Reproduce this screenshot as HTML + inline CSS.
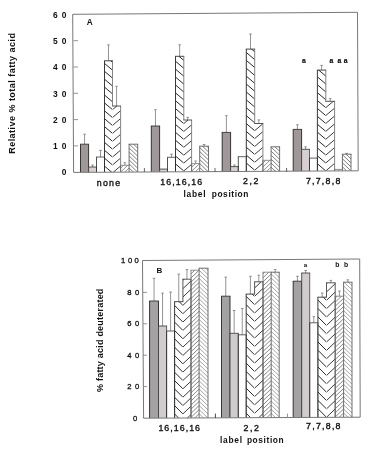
<!DOCTYPE html>
<html><head><meta charset="utf-8"><style>
html,body{margin:0;padding:0;background:#fff;}
svg{display:block;filter:blur(0.3px);font-family:"Liberation Sans", sans-serif;}
</style></head><body>
<svg width="390" height="462" viewBox="0 0 390 462">
<defs><clipPath id="c1"><rect x="104.50" y="60.80" width="8.00" height="111.30"/></clipPath><clipPath id="c2"><rect x="112.50" y="106.00" width="8.10" height="66.06"/></clipPath><clipPath id="c3"><rect x="120.60" y="165.30" width="8.50" height="6.71"/></clipPath><clipPath id="c4"><rect x="129.10" y="144.20" width="8.60" height="27.76"/></clipPath><clipPath id="c5"><rect x="175.50" y="56.30" width="8.30" height="115.40"/></clipPath><clipPath id="c6"><rect x="183.80" y="120.00" width="7.80" height="51.66"/></clipPath><clipPath id="c7"><rect x="191.60" y="163.60" width="8.10" height="8.01"/></clipPath><clipPath id="c8"><rect x="199.70" y="146.20" width="8.80" height="25.37"/></clipPath><clipPath id="c9"><rect x="246.30" y="49.10" width="8.40" height="122.21"/></clipPath><clipPath id="c10"><rect x="254.70" y="123.50" width="8.20" height="47.76"/></clipPath><clipPath id="c11"><rect x="262.90" y="160.30" width="8.20" height="10.91"/></clipPath><clipPath id="c12"><rect x="271.10" y="146.80" width="8.50" height="24.37"/></clipPath><clipPath id="c13"><rect x="317.40" y="70.10" width="8.40" height="100.81"/></clipPath><clipPath id="c14"><rect x="325.80" y="101.30" width="8.80" height="69.56"/></clipPath><clipPath id="c15"><rect x="334.60" y="169.40" width="7.80" height="1.41"/></clipPath><clipPath id="c16"><rect x="342.40" y="154.20" width="8.60" height="16.56"/></clipPath><clipPath id="c17"><rect x="174.60" y="301.70" width="8.30" height="116.24"/></clipPath><clipPath id="c18"><rect x="182.90" y="279.20" width="8.10" height="138.70"/></clipPath><clipPath id="c19"><rect x="191.00" y="270.20" width="8.10" height="147.66"/></clipPath><clipPath id="c20"><rect x="199.10" y="268.20" width="8.90" height="149.62"/></clipPath><clipPath id="c21"><rect x="246.20" y="294.10" width="8.40" height="123.51"/></clipPath><clipPath id="c22"><rect x="254.60" y="281.80" width="8.40" height="135.77"/></clipPath><clipPath id="c23"><rect x="263.00" y="272.20" width="8.20" height="145.33"/></clipPath><clipPath id="c24"><rect x="271.20" y="272.20" width="8.00" height="145.29"/></clipPath><clipPath id="c25"><rect x="317.90" y="297.20" width="8.60" height="120.08"/></clipPath><clipPath id="c26"><rect x="326.50" y="282.80" width="8.70" height="134.44"/></clipPath><clipPath id="c27"><rect x="335.20" y="296.20" width="8.40" height="121.00"/></clipPath><clipPath id="c28"><rect x="343.60" y="282.20" width="8.40" height="134.96"/></clipPath></defs>
<rect width="390" height="462" fill="#fff"/>
<path d="M84.55 144.20V134.20M83.25 134.20H85.85" stroke="#7a7a7a" stroke-width="0.8" fill="none"/>
<rect x="80.50" y="144.20" width="8.10" height="28.04" fill="#a09898"/><path d="M80.50 172.24V144.20" stroke="#222" stroke-width="0.90"/><path d="M88.60 172.24V144.20" stroke="#222" stroke-width="0.90"/><path d="M80.05 144.20H89.05" stroke="#333" stroke-width="0.90"/>
<path d="M92.55 167.00V165.00M91.25 165.00H93.85" stroke="#7a7a7a" stroke-width="0.8" fill="none"/>
<rect x="88.60" y="167.00" width="7.90" height="5.19" fill="#d8d0d0"/><path d="M88.60 172.19V167.00" stroke="#444" stroke-width="0.90"/><path d="M96.50 172.19V167.00" stroke="#555" stroke-width="0.90"/><path d="M88.15 167.00H96.95" stroke="#444" stroke-width="0.90"/>
<path d="M100.50 157.00V150.40M99.20 150.40H101.80" stroke="#7a7a7a" stroke-width="0.8" fill="none"/>
<path d="M96.50 172.15V157.00" stroke="#333" stroke-width="0.85"/><path d="M104.50 172.15V157.00" stroke="#777" stroke-width="0.85"/><path d="M96.05 157.00H104.95" stroke="#444" stroke-width="0.85"/>
<path d="M108.50 60.80V44.90M107.20 44.90H109.80" stroke="#7a7a7a" stroke-width="0.8" fill="none"/>
<path clip-path="url(#c1)" d="M104.50 181.90L112.50 188.70M104.50 174.00L112.50 180.80M104.50 166.10L112.50 172.90M104.50 158.20L112.50 165.00M104.50 150.30L112.50 157.10M104.50 142.40L112.50 149.20M104.50 134.50L112.50 141.30M104.50 126.60L112.50 133.40M104.50 118.70L112.50 125.50M104.50 110.80L112.50 117.60M104.50 102.90L112.50 109.70M104.50 95.00L112.50 101.80M104.50 87.10L112.50 93.90M104.50 79.20L112.50 86.00M104.50 71.30L112.50 78.10M104.50 63.40L112.50 70.20M104.50 55.50L112.50 62.30M104.50 47.60L112.50 54.40" stroke="#2a2a2a" stroke-width="1.00" fill="none"/><path d="M104.50 172.10V60.80" stroke="#222" stroke-width="0.90"/><path d="M104.05 60.80H112.95" stroke="#333" stroke-width="0.90"/>
<path d="M112.50 60.80V106.00" stroke="#666" stroke-width="0.8"/>
<path d="M116.55 106.00V86.30M115.25 86.30H117.85" stroke="#7a7a7a" stroke-width="0.8" fill="none"/>
<path clip-path="url(#c2)" d="M112.50 188.66L120.60 181.77M112.50 180.76L120.60 173.87M112.50 172.86L120.60 165.97M112.50 164.96L120.60 158.07M112.50 157.06L120.60 150.17M112.50 149.16L120.60 142.27M112.50 141.26L120.60 134.37M112.50 133.36L120.60 126.47M112.50 125.46L120.60 118.57M112.50 117.56L120.60 110.67M112.50 109.66L120.60 102.77M112.50 101.76L120.60 94.87" stroke="#333" stroke-width="0.95" fill="none"/><path d="M120.60 172.06V106.00" stroke="#777" stroke-width="0.90"/><path d="M112.05 106.00H121.05" stroke="#444" stroke-width="0.90"/>
<path d="M124.85 165.30V162.70M123.55 162.70H126.15" stroke="#7a7a7a" stroke-width="0.8" fill="none"/>
<path clip-path="url(#c3)" d="M120.60 184.09L129.10 176.01M120.60 180.09L129.10 172.01M120.60 176.09L129.10 168.01M120.60 172.09L129.10 164.01M120.60 168.09L129.10 160.01M120.60 164.09L129.10 156.01" stroke="#707070" stroke-width="0.75" fill="none"/><path d="M120.60 172.01V165.30" stroke="#666" stroke-width="0.80"/><path d="M120.15 165.30H129.55" stroke="#777" stroke-width="0.80"/>
<path clip-path="url(#c4)" d="M129.10 175.96L137.70 184.13M129.10 171.96L137.70 180.13M129.10 167.96L137.70 176.13M129.10 163.96L137.70 172.13M129.10 159.96L137.70 168.13M129.10 155.96L137.70 164.13M129.10 151.96L137.70 160.13M129.10 147.96L137.70 156.13M129.10 143.96L137.70 152.13M129.10 139.96L137.70 148.13M129.10 135.96L137.70 144.13" stroke="#555" stroke-width="0.75" fill="none"/><path d="M129.10 171.96V144.20" stroke="#555" stroke-width="0.85"/><path d="M137.70 171.96V144.20" stroke="#555" stroke-width="0.85"/><path d="M128.65 144.20H138.15" stroke="#555" stroke-width="0.85"/>
<path d="M155.45 126.00V109.70M154.15 109.70H156.75" stroke="#7a7a7a" stroke-width="0.8" fill="none"/>
<rect x="151.30" y="126.00" width="8.30" height="45.84" fill="#a09898"/><path d="M151.30 171.84V126.00" stroke="#222" stroke-width="0.90"/><path d="M159.60 171.84V126.00" stroke="#222" stroke-width="0.90"/><path d="M150.85 126.00H160.05" stroke="#333" stroke-width="0.90"/>
<rect x="159.60" y="169.10" width="7.90" height="2.69" fill="#d8d0d0"/><path d="M159.60 171.79V169.10" stroke="#444" stroke-width="0.90"/><path d="M167.50 171.79V169.10" stroke="#555" stroke-width="0.90"/><path d="M159.15 169.10H167.95" stroke="#444" stroke-width="0.90"/>
<path d="M171.50 157.30V154.20M170.20 154.20H172.80" stroke="#7a7a7a" stroke-width="0.8" fill="none"/>
<path d="M167.50 171.75V157.30" stroke="#333" stroke-width="0.85"/><path d="M175.50 171.75V157.30" stroke="#777" stroke-width="0.85"/><path d="M167.05 157.30H175.95" stroke="#444" stroke-width="0.85"/>
<path d="M179.65 56.30V44.80M178.35 44.80H180.95" stroke="#7a7a7a" stroke-width="0.8" fill="none"/>
<path clip-path="url(#c5)" d="M175.50 179.75L183.80 186.80M175.50 171.85L183.80 178.90M175.50 163.95L183.80 171.00M175.50 156.05L183.80 163.10M175.50 148.15L183.80 155.20M175.50 140.25L183.80 147.30M175.50 132.35L183.80 139.40M175.50 124.45L183.80 131.50M175.50 116.55L183.80 123.60M175.50 108.65L183.80 115.70M175.50 100.75L183.80 107.80M175.50 92.85L183.80 99.90M175.50 84.95L183.80 92.00M175.50 77.05L183.80 84.10M175.50 69.15L183.80 76.20M175.50 61.25L183.80 68.30M175.50 53.35L183.80 60.40M175.50 45.45L183.80 52.50" stroke="#2a2a2a" stroke-width="1.00" fill="none"/><path d="M175.50 171.70V56.30" stroke="#222" stroke-width="0.90"/><path d="M175.05 56.30H184.25" stroke="#333" stroke-width="0.90"/>
<path d="M183.80 56.30V120.00" stroke="#666" stroke-width="0.8"/>
<path d="M187.70 120.00V117.40M186.40 117.40H189.00" stroke="#7a7a7a" stroke-width="0.8" fill="none"/>
<path clip-path="url(#c6)" d="M183.80 186.76L191.60 180.13M183.80 178.86L191.60 172.23M183.80 170.96L191.60 164.33M183.80 163.06L191.60 156.43M183.80 155.16L191.60 148.53M183.80 147.26L191.60 140.63M183.80 139.36L191.60 132.73M183.80 131.46L191.60 124.83M183.80 123.56L191.60 116.93M183.80 115.66L191.60 109.03" stroke="#333" stroke-width="0.95" fill="none"/><path d="M191.60 171.66V120.00" stroke="#777" stroke-width="0.90"/><path d="M183.35 120.00H192.05" stroke="#444" stroke-width="0.90"/>
<path d="M195.65 163.60V161.00M194.35 161.00H196.95" stroke="#7a7a7a" stroke-width="0.8" fill="none"/>
<path clip-path="url(#c7)" d="M191.60 183.31L199.70 175.61M191.60 179.31L199.70 171.61M191.60 175.31L199.70 167.61M191.60 171.31L199.70 163.61M191.60 167.31L199.70 159.61M191.60 163.31L199.70 155.61" stroke="#707070" stroke-width="0.75" fill="none"/><path d="M191.60 171.61V163.60" stroke="#666" stroke-width="0.80"/><path d="M191.15 163.60H200.15" stroke="#777" stroke-width="0.80"/>
<path d="M204.10 146.20V144.50M202.80 144.50H205.40" stroke="#7a7a7a" stroke-width="0.8" fill="none"/>
<path clip-path="url(#c8)" d="M199.70 175.57L208.50 183.93M199.70 171.57L208.50 179.93M199.70 167.57L208.50 175.93M199.70 163.57L208.50 171.93M199.70 159.57L208.50 167.93M199.70 155.57L208.50 163.93M199.70 151.57L208.50 159.93M199.70 147.57L208.50 155.93M199.70 143.57L208.50 151.93M199.70 139.57L208.50 147.93M199.70 135.57L208.50 143.93" stroke="#555" stroke-width="0.75" fill="none"/><path d="M199.70 171.57V146.20" stroke="#555" stroke-width="0.85"/><path d="M208.50 171.57V146.20" stroke="#555" stroke-width="0.85"/><path d="M199.25 146.20H208.95" stroke="#555" stroke-width="0.85"/>
<path d="M226.40 132.40V115.70M225.10 115.70H227.70" stroke="#7a7a7a" stroke-width="0.8" fill="none"/>
<rect x="222.20" y="132.40" width="8.40" height="39.04" fill="#a09898"/><path d="M222.20 171.44V132.40" stroke="#222" stroke-width="0.90"/><path d="M230.60 171.44V132.40" stroke="#222" stroke-width="0.90"/><path d="M221.75 132.40H231.05" stroke="#333" stroke-width="0.90"/>
<path d="M234.45 166.60V165.00M233.15 165.00H235.75" stroke="#7a7a7a" stroke-width="0.8" fill="none"/>
<rect x="230.60" y="166.60" width="7.70" height="4.80" fill="#d8d0d0"/><path d="M230.60 171.40V166.60" stroke="#444" stroke-width="0.90"/><path d="M238.30 171.40V166.60" stroke="#555" stroke-width="0.90"/><path d="M230.15 166.60H238.75" stroke="#444" stroke-width="0.90"/>
<path d="M238.30 171.35V156.70" stroke="#333" stroke-width="0.85"/><path d="M246.30 171.35V156.70" stroke="#777" stroke-width="0.85"/><path d="M237.85 156.70H246.75" stroke="#444" stroke-width="0.85"/>
<path d="M250.50 49.10V34.00M249.20 34.00H251.80" stroke="#7a7a7a" stroke-width="0.8" fill="none"/>
<path clip-path="url(#c9)" d="M246.30 186.77L254.70 193.91M246.30 178.87L254.70 186.01M246.30 170.97L254.70 178.11M246.30 163.07L254.70 170.21M246.30 155.17L254.70 162.31M246.30 147.27L254.70 154.41M246.30 139.37L254.70 146.51M246.30 131.47L254.70 138.61M246.30 123.57L254.70 130.71M246.30 115.67L254.70 122.81M246.30 107.77L254.70 114.91M246.30 99.87L254.70 107.01M246.30 91.97L254.70 99.11M246.30 84.07L254.70 91.21M246.30 76.17L254.70 83.31M246.30 68.27L254.70 75.41M246.30 60.37L254.70 67.51M246.30 52.47L254.70 59.61M246.30 44.57L254.70 51.71M246.30 36.67L254.70 43.81" stroke="#2a2a2a" stroke-width="1.00" fill="none"/><path d="M246.30 171.31V49.10" stroke="#222" stroke-width="0.90"/><path d="M245.85 49.10H255.15" stroke="#333" stroke-width="0.90"/>
<path d="M254.70 49.10V123.50" stroke="#666" stroke-width="0.8"/>
<path d="M258.80 123.50V119.90M257.50 119.90H260.10" stroke="#7a7a7a" stroke-width="0.8" fill="none"/>
<path clip-path="url(#c10)" d="M254.70 193.86L262.90 186.89M254.70 185.96L262.90 178.99M254.70 178.06L262.90 171.09M254.70 170.16L262.90 163.19M254.70 162.26L262.90 155.29M254.70 154.36L262.90 147.39M254.70 146.46L262.90 139.49M254.70 138.56L262.90 131.59M254.70 130.66L262.90 123.69M254.70 122.76L262.90 115.79" stroke="#333" stroke-width="0.95" fill="none"/><path d="M262.90 171.26V123.50" stroke="#777" stroke-width="0.90"/><path d="M254.25 123.50H263.35" stroke="#444" stroke-width="0.90"/>
<path clip-path="url(#c11)" d="M262.90 183.00L271.10 175.21M262.90 179.00L271.10 171.21M262.90 175.00L271.10 167.21M262.90 171.00L271.10 163.21M262.90 167.00L271.10 159.21M262.90 163.00L271.10 155.21M262.90 159.00L271.10 151.21" stroke="#707070" stroke-width="0.75" fill="none"/><path d="M262.90 171.21V160.30" stroke="#666" stroke-width="0.80"/><path d="M262.45 160.30H271.55" stroke="#777" stroke-width="0.80"/>
<path clip-path="url(#c12)" d="M271.10 175.17L279.60 183.24M271.10 171.17L279.60 179.24M271.10 167.17L279.60 175.24M271.10 163.17L279.60 171.24M271.10 159.17L279.60 167.24M271.10 155.17L279.60 163.24M271.10 151.17L279.60 159.24M271.10 147.17L279.60 155.24M271.10 143.17L279.60 151.24M271.10 139.17L279.60 147.24M271.10 135.17L279.60 143.24" stroke="#555" stroke-width="0.75" fill="none"/><path d="M271.10 171.17V146.80" stroke="#555" stroke-width="0.85"/><path d="M279.60 171.17V146.80" stroke="#555" stroke-width="0.85"/><path d="M270.65 146.80H280.05" stroke="#555" stroke-width="0.85"/>
<path d="M297.40 129.40V124.80M296.10 124.80H298.70" stroke="#7a7a7a" stroke-width="0.8" fill="none"/>
<rect x="293.20" y="129.40" width="8.40" height="41.64" fill="#a09898"/><path d="M293.20 171.04V129.40" stroke="#222" stroke-width="0.90"/><path d="M301.60 171.04V129.40" stroke="#222" stroke-width="0.90"/><path d="M292.75 129.40H302.05" stroke="#333" stroke-width="0.90"/>
<path d="M305.55 149.30V146.80M304.25 146.80H306.85" stroke="#7a7a7a" stroke-width="0.8" fill="none"/>
<rect x="301.60" y="149.30" width="7.90" height="21.70" fill="#d8d0d0"/><path d="M301.60 171.00V149.30" stroke="#444" stroke-width="0.90"/><path d="M309.50 171.00V149.30" stroke="#555" stroke-width="0.90"/><path d="M301.15 149.30H309.95" stroke="#444" stroke-width="0.90"/>
<path d="M309.50 170.95V158.10" stroke="#333" stroke-width="0.85"/><path d="M317.40 170.95V158.10" stroke="#777" stroke-width="0.85"/><path d="M309.05 158.10H317.85" stroke="#444" stroke-width="0.85"/>
<path d="M321.60 70.10V65.40M320.30 65.40H322.90" stroke="#7a7a7a" stroke-width="0.8" fill="none"/>
<path clip-path="url(#c13)" d="M317.40 179.57L325.80 186.71M317.40 171.67L325.80 178.81M317.40 163.77L325.80 170.91M317.40 155.87L325.80 163.01M317.40 147.97L325.80 155.11M317.40 140.07L325.80 147.21M317.40 132.17L325.80 139.31M317.40 124.27L325.80 131.41M317.40 116.37L325.80 123.51M317.40 108.47L325.80 115.61M317.40 100.57L325.80 107.71M317.40 92.67L325.80 99.81M317.40 84.77L325.80 91.91M317.40 76.87L325.80 84.01M317.40 68.97L325.80 76.11M317.40 61.07L325.80 68.21" stroke="#2a2a2a" stroke-width="1.00" fill="none"/><path d="M317.40 170.91V70.10" stroke="#222" stroke-width="0.90"/><path d="M316.95 70.10H326.25" stroke="#333" stroke-width="0.90"/>
<path d="M325.80 70.10V101.30" stroke="#666" stroke-width="0.8"/>
<path d="M330.20 101.30V98.60M328.90 98.60H331.50" stroke="#7a7a7a" stroke-width="0.8" fill="none"/>
<path clip-path="url(#c14)" d="M325.80 186.66L334.60 179.18M325.80 178.76L334.60 171.28M325.80 170.86L334.60 163.38M325.80 162.96L334.60 155.48M325.80 155.06L334.60 147.58M325.80 147.16L334.60 139.68M325.80 139.26L334.60 131.78M325.80 131.36L334.60 123.88M325.80 123.46L334.60 115.98M325.80 115.56L334.60 108.08M325.80 107.66L334.60 100.18M325.80 99.76L334.60 92.28" stroke="#333" stroke-width="0.95" fill="none"/><path d="M334.60 170.86V101.30" stroke="#777" stroke-width="0.90"/><path d="M325.35 101.30H335.05" stroke="#444" stroke-width="0.90"/>
<path clip-path="url(#c15)" d="M334.60 182.22L342.40 174.81M334.60 178.22L342.40 170.81M334.60 174.22L342.40 166.81M334.60 170.22L342.40 162.81M334.60 166.22L342.40 158.81" stroke="#707070" stroke-width="0.75" fill="none"/><path d="M334.60 170.81V169.40" stroke="#666" stroke-width="0.80"/><path d="M334.15 169.40H342.85" stroke="#777" stroke-width="0.80"/>
<path d="M346.70 154.20V153.30M345.40 153.30H348.00" stroke="#7a7a7a" stroke-width="0.8" fill="none"/>
<path clip-path="url(#c16)" d="M342.40 174.76L351.00 182.93M342.40 170.76L351.00 178.93M342.40 166.76L351.00 174.93M342.40 162.76L351.00 170.93M342.40 158.76L351.00 166.93M342.40 154.76L351.00 162.93M342.40 150.76L351.00 158.93M342.40 146.76L351.00 154.93M342.40 142.76L351.00 150.93" stroke="#555" stroke-width="0.75" fill="none"/><path d="M342.40 170.76V154.20" stroke="#555" stroke-width="0.85"/><path d="M351.00 170.76V154.20" stroke="#555" stroke-width="0.85"/><path d="M341.95 154.20H351.45" stroke="#555" stroke-width="0.85"/>
<path d="M154.05 301.00V278.30M152.75 278.30H155.35" stroke="#7a7a7a" stroke-width="0.8" fill="none"/>
<rect x="149.60" y="301.00" width="8.90" height="117.05" fill="#a4a2a2"/><path d="M149.60 418.05V301.00" stroke="#222" stroke-width="0.90"/><path d="M158.50 418.05V301.00" stroke="#222" stroke-width="0.90"/><path d="M149.15 301.00H158.95" stroke="#333" stroke-width="0.90"/>
<path d="M162.55 326.00V293.10M161.25 293.10H163.85" stroke="#7a7a7a" stroke-width="0.8" fill="none"/>
<rect x="158.50" y="326.00" width="8.10" height="92.01" fill="#d0cccc"/><path d="M158.50 418.01V326.00" stroke="#444" stroke-width="0.90"/><path d="M166.60 418.01V326.00" stroke="#555" stroke-width="0.90"/><path d="M158.05 326.00H167.05" stroke="#444" stroke-width="0.90"/>
<path d="M170.60 331.00V292.00M169.30 292.00H171.90" stroke="#7a7a7a" stroke-width="0.8" fill="none"/>
<path d="M166.60 417.98V331.00" stroke="#333" stroke-width="0.85"/><path d="M174.60 417.98V331.00" stroke="#777" stroke-width="0.85"/><path d="M166.15 331.00H175.05" stroke="#444" stroke-width="0.85"/>
<path d="M178.75 301.70V274.10M177.45 274.10H180.05" stroke="#7a7a7a" stroke-width="0.8" fill="none"/>
<path clip-path="url(#c17)" d="M174.60 430.69L182.90 438.99M174.60 422.34L182.90 430.64M174.60 413.99L182.90 422.29M174.60 405.64L182.90 413.94M174.60 397.29L182.90 405.59M174.60 388.94L182.90 397.24M174.60 380.59L182.90 388.89M174.60 372.24L182.90 380.54M174.60 363.89L182.90 372.19M174.60 355.54L182.90 363.84M174.60 347.19L182.90 355.49M174.60 338.84L182.90 347.14M174.60 330.49L182.90 338.79M174.60 322.14L182.90 330.44M174.60 313.79L182.90 322.09M174.60 305.44L182.90 313.74M174.60 297.09L182.90 305.39M174.60 288.74L182.90 297.04" stroke="#2a2a2a" stroke-width="1.00" fill="none"/><path d="M174.60 417.94V301.70" stroke="#222" stroke-width="0.90"/><path d="M174.15 301.70H183.35" stroke="#333" stroke-width="0.90"/>
<path d="M186.95 279.20V269.60M185.65 269.60H188.25" stroke="#7a7a7a" stroke-width="0.8" fill="none"/>
<path clip-path="url(#c18)" d="M182.90 438.95L191.00 431.25M182.90 430.60L191.00 422.90M182.90 422.25L191.00 414.55M182.90 413.90L191.00 406.20M182.90 405.55L191.00 397.85M182.90 397.20L191.00 389.50M182.90 388.85L191.00 381.15M182.90 380.50L191.00 372.80M182.90 372.15L191.00 364.45M182.90 363.80L191.00 356.10M182.90 355.45L191.00 347.75M182.90 347.10L191.00 339.40M182.90 338.75L191.00 331.05M182.90 330.40L191.00 322.70M182.90 322.05L191.00 314.35M182.90 313.70L191.00 306.00M182.90 305.35L191.00 297.65M182.90 297.00L191.00 289.30M182.90 288.65L191.00 280.95M182.90 280.30L191.00 272.60M182.90 271.95L191.00 264.25" stroke="#333" stroke-width="0.95" fill="none"/><path d="M191.00 417.90V279.20" stroke="#444" stroke-width="0.90"/><path d="M182.45 279.20H191.45" stroke="#444" stroke-width="0.90"/>
<path d="M182.90 279.20V301.70" stroke="#444" stroke-width="0.9"/>
<path clip-path="url(#c19)" d="M191.00 429.66L199.10 421.96M191.00 425.56L199.10 417.86M191.00 421.46L199.10 413.76M191.00 417.36L199.10 409.66M191.00 413.26L199.10 405.56M191.00 409.16L199.10 401.46M191.00 405.06L199.10 397.36M191.00 400.96L199.10 393.26M191.00 396.86L199.10 389.16M191.00 392.76L199.10 385.06M191.00 388.66L199.10 380.96M191.00 384.56L199.10 376.86M191.00 380.46L199.10 372.76M191.00 376.36L199.10 368.66M191.00 372.26L199.10 364.56M191.00 368.16L199.10 360.46M191.00 364.06L199.10 356.36M191.00 359.96L199.10 352.26M191.00 355.86L199.10 348.16M191.00 351.76L199.10 344.06M191.00 347.66L199.10 339.96M191.00 343.56L199.10 335.86M191.00 339.46L199.10 331.76M191.00 335.36L199.10 327.66M191.00 331.26L199.10 323.56M191.00 327.16L199.10 319.46M191.00 323.06L199.10 315.36M191.00 318.96L199.10 311.26M191.00 314.86L199.10 307.16M191.00 310.76L199.10 303.06M191.00 306.66L199.10 298.96M191.00 302.56L199.10 294.86M191.00 298.46L199.10 290.76M191.00 294.36L199.10 286.66M191.00 290.26L199.10 282.56M191.00 286.16L199.10 278.46M191.00 282.06L199.10 274.36M191.00 277.96L199.10 270.26M191.00 273.86L199.10 266.16M191.00 269.76L199.10 262.06" stroke="#606060" stroke-width="0.75" fill="none"/><path d="M191.00 417.86V270.20" stroke="#666" stroke-width="0.80"/><path d="M190.55 270.20H199.55" stroke="#777" stroke-width="0.80"/>
<path clip-path="url(#c20)" d="M199.10 421.92L208.00 430.38M199.10 417.82L208.00 426.28M199.10 413.72L208.00 422.18M199.10 409.62L208.00 418.08M199.10 405.52L208.00 413.98M199.10 401.42L208.00 409.88M199.10 397.32L208.00 405.78M199.10 393.22L208.00 401.68M199.10 389.12L208.00 397.58M199.10 385.02L208.00 393.48M199.10 380.92L208.00 389.38M199.10 376.82L208.00 385.28M199.10 372.72L208.00 381.18M199.10 368.62L208.00 377.08M199.10 364.52L208.00 372.98M199.10 360.42L208.00 368.88M199.10 356.32L208.00 364.78M199.10 352.22L208.00 360.68M199.10 348.12L208.00 356.58M199.10 344.02L208.00 352.48M199.10 339.92L208.00 348.38M199.10 335.82L208.00 344.28M199.10 331.72L208.00 340.18M199.10 327.62L208.00 336.08M199.10 323.52L208.00 331.98M199.10 319.42L208.00 327.88M199.10 315.32L208.00 323.78M199.10 311.22L208.00 319.68M199.10 307.12L208.00 315.58M199.10 303.02L208.00 311.48M199.10 298.92L208.00 307.38M199.10 294.82L208.00 303.28M199.10 290.72L208.00 299.18M199.10 286.62L208.00 295.08M199.10 282.52L208.00 290.98M199.10 278.42L208.00 286.88M199.10 274.32L208.00 282.78M199.10 270.22L208.00 278.68M199.10 266.12L208.00 274.58M199.10 262.02L208.00 270.48M199.10 257.92L208.00 266.38" stroke="#8a8a8a" stroke-width="0.75" fill="none"/><path d="M199.10 417.82V268.20" stroke="#555" stroke-width="0.85"/><path d="M208.00 417.82V268.20" stroke="#555" stroke-width="0.85"/><path d="M198.65 268.20H208.45" stroke="#555" stroke-width="0.85"/>
<path d="M225.75 296.20V277.10M224.45 277.10H227.05" stroke="#7a7a7a" stroke-width="0.8" fill="none"/>
<rect x="221.50" y="296.20" width="8.50" height="121.52" fill="#a4a2a2"/><path d="M221.50 417.72V296.20" stroke="#222" stroke-width="0.90"/><path d="M230.00 417.72V296.20" stroke="#222" stroke-width="0.90"/><path d="M221.05 296.20H230.45" stroke="#333" stroke-width="0.90"/>
<path d="M234.15 333.30V310.50M232.85 310.50H235.45" stroke="#7a7a7a" stroke-width="0.8" fill="none"/>
<rect x="230.00" y="333.30" width="8.30" height="84.38" fill="#d0cccc"/><path d="M230.00 417.68V333.30" stroke="#444" stroke-width="0.90"/><path d="M238.30 417.68V333.30" stroke="#555" stroke-width="0.90"/><path d="M229.55 333.30H238.75" stroke="#444" stroke-width="0.90"/>
<path d="M242.25 334.80V308.50M240.95 308.50H243.55" stroke="#7a7a7a" stroke-width="0.8" fill="none"/>
<path d="M238.30 417.64V334.80" stroke="#333" stroke-width="0.85"/><path d="M246.20 417.64V334.80" stroke="#777" stroke-width="0.85"/><path d="M237.85 334.80H246.65" stroke="#444" stroke-width="0.85"/>
<path d="M250.40 294.10V276.30M249.10 276.30H251.70" stroke="#7a7a7a" stroke-width="0.8" fill="none"/>
<path clip-path="url(#c21)" d="M246.20 429.96L254.60 438.36M246.20 421.61L254.60 430.01M246.20 413.26L254.60 421.66M246.20 404.91L254.60 413.31M246.20 396.56L254.60 404.96M246.20 388.21L254.60 396.61M246.20 379.86L254.60 388.26M246.20 371.51L254.60 379.91M246.20 363.16L254.60 371.56M246.20 354.81L254.60 363.21M246.20 346.46L254.60 354.86M246.20 338.11L254.60 346.51M246.20 329.76L254.60 338.16M246.20 321.41L254.60 329.81M246.20 313.06L254.60 321.46M246.20 304.71L254.60 313.11M246.20 296.36L254.60 304.76M246.20 288.01L254.60 296.41M246.20 279.66L254.60 288.06" stroke="#2a2a2a" stroke-width="1.00" fill="none"/><path d="M246.20 417.61V294.10" stroke="#222" stroke-width="0.90"/><path d="M245.75 294.10H255.05" stroke="#333" stroke-width="0.90"/>
<path d="M258.80 281.80V275.20M257.50 275.20H260.10" stroke="#7a7a7a" stroke-width="0.8" fill="none"/>
<path clip-path="url(#c22)" d="M254.60 438.32L263.00 430.34M254.60 429.97L263.00 421.99M254.60 421.62L263.00 413.64M254.60 413.27L263.00 405.29M254.60 404.92L263.00 396.94M254.60 396.57L263.00 388.59M254.60 388.22L263.00 380.24M254.60 379.87L263.00 371.89M254.60 371.52L263.00 363.54M254.60 363.17L263.00 355.19M254.60 354.82L263.00 346.84M254.60 346.47L263.00 338.49M254.60 338.12L263.00 330.14M254.60 329.77L263.00 321.79M254.60 321.42L263.00 313.44M254.60 313.07L263.00 305.09M254.60 304.72L263.00 296.74M254.60 296.37L263.00 288.39M254.60 288.02L263.00 280.04M254.60 279.67L263.00 271.69" stroke="#333" stroke-width="0.95" fill="none"/><path d="M263.00 417.57V281.80" stroke="#444" stroke-width="0.90"/><path d="M254.15 281.80H263.45" stroke="#444" stroke-width="0.90"/>
<path d="M254.60 281.80V294.10" stroke="#444" stroke-width="0.9"/>
<path clip-path="url(#c23)" d="M263.00 429.42L271.20 421.63M263.00 425.32L271.20 417.53M263.00 421.22L271.20 413.43M263.00 417.12L271.20 409.33M263.00 413.02L271.20 405.23M263.00 408.92L271.20 401.13M263.00 404.82L271.20 397.03M263.00 400.72L271.20 392.93M263.00 396.62L271.20 388.83M263.00 392.52L271.20 384.73M263.00 388.42L271.20 380.63M263.00 384.32L271.20 376.53M263.00 380.22L271.20 372.43M263.00 376.12L271.20 368.33M263.00 372.02L271.20 364.23M263.00 367.92L271.20 360.13M263.00 363.82L271.20 356.03M263.00 359.72L271.20 351.93M263.00 355.62L271.20 347.83M263.00 351.52L271.20 343.73M263.00 347.42L271.20 339.63M263.00 343.32L271.20 335.53M263.00 339.22L271.20 331.43M263.00 335.12L271.20 327.33M263.00 331.02L271.20 323.23M263.00 326.92L271.20 319.13M263.00 322.82L271.20 315.03M263.00 318.72L271.20 310.93M263.00 314.62L271.20 306.83M263.00 310.52L271.20 302.73M263.00 306.42L271.20 298.63M263.00 302.32L271.20 294.53M263.00 298.22L271.20 290.43M263.00 294.12L271.20 286.33M263.00 290.02L271.20 282.23M263.00 285.92L271.20 278.13M263.00 281.82L271.20 274.03M263.00 277.72L271.20 269.93M263.00 273.62L271.20 265.83M263.00 269.52L271.20 261.73" stroke="#606060" stroke-width="0.75" fill="none"/><path d="M263.00 417.53V272.20" stroke="#666" stroke-width="0.80"/><path d="M262.55 272.20H271.65" stroke="#777" stroke-width="0.80"/>
<path d="M275.20 272.20V269.50M273.90 269.50H276.50" stroke="#7a7a7a" stroke-width="0.8" fill="none"/>
<path clip-path="url(#c24)" d="M271.20 421.59L279.20 429.19M271.20 417.49L279.20 425.09M271.20 413.39L279.20 420.99M271.20 409.29L279.20 416.89M271.20 405.19L279.20 412.79M271.20 401.09L279.20 408.69M271.20 396.99L279.20 404.59M271.20 392.89L279.20 400.49M271.20 388.79L279.20 396.39M271.20 384.69L279.20 392.29M271.20 380.59L279.20 388.19M271.20 376.49L279.20 384.09M271.20 372.39L279.20 379.99M271.20 368.29L279.20 375.89M271.20 364.19L279.20 371.79M271.20 360.09L279.20 367.69M271.20 355.99L279.20 363.59M271.20 351.89L279.20 359.49M271.20 347.79L279.20 355.39M271.20 343.69L279.20 351.29M271.20 339.59L279.20 347.19M271.20 335.49L279.20 343.09M271.20 331.39L279.20 338.99M271.20 327.29L279.20 334.89M271.20 323.19L279.20 330.79M271.20 319.09L279.20 326.69M271.20 314.99L279.20 322.59M271.20 310.89L279.20 318.49M271.20 306.79L279.20 314.39M271.20 302.69L279.20 310.29M271.20 298.59L279.20 306.19M271.20 294.49L279.20 302.09M271.20 290.39L279.20 297.99M271.20 286.29L279.20 293.89M271.20 282.19L279.20 289.79M271.20 278.09L279.20 285.69M271.20 273.99L279.20 281.59M271.20 269.89L279.20 277.49M271.20 265.79L279.20 273.39M271.20 261.69L279.20 269.29" stroke="#8a8a8a" stroke-width="0.75" fill="none"/><path d="M271.20 417.49V272.20" stroke="#555" stroke-width="0.85"/><path d="M279.20 417.49V272.20" stroke="#555" stroke-width="0.85"/><path d="M270.75 272.20H279.65" stroke="#555" stroke-width="0.85"/>
<path d="M297.45 281.20V276.30M296.15 276.30H298.75" stroke="#7a7a7a" stroke-width="0.8" fill="none"/>
<rect x="293.20" y="281.20" width="8.50" height="136.19" fill="#a4a2a2"/><path d="M293.20 417.39V281.20" stroke="#222" stroke-width="0.90"/><path d="M301.70 417.39V281.20" stroke="#222" stroke-width="0.90"/><path d="M292.75 281.20H302.15" stroke="#333" stroke-width="0.90"/>
<path d="M305.70 273.00V270.50M304.40 270.50H307.00" stroke="#7a7a7a" stroke-width="0.8" fill="none"/>
<rect x="301.70" y="273.00" width="8.00" height="144.35" fill="#d0cccc"/><path d="M301.70 417.35V273.00" stroke="#444" stroke-width="0.90"/><path d="M309.70 417.35V273.00" stroke="#555" stroke-width="0.90"/><path d="M301.25 273.00H310.15" stroke="#444" stroke-width="0.90"/>
<path d="M313.80 322.80V316.70M312.50 316.70H315.10" stroke="#7a7a7a" stroke-width="0.8" fill="none"/>
<path d="M309.70 417.31V322.80" stroke="#333" stroke-width="0.85"/><path d="M317.90 417.31V322.80" stroke="#777" stroke-width="0.85"/><path d="M309.25 322.80H318.35" stroke="#444" stroke-width="0.85"/>
<path d="M322.20 297.20V293.10M320.90 293.10H323.50" stroke="#7a7a7a" stroke-width="0.8" fill="none"/>
<path clip-path="url(#c25)" d="M317.90 433.73L326.50 442.33M317.90 425.38L326.50 433.98M317.90 417.03L326.50 425.63M317.90 408.68L326.50 417.28M317.90 400.33L326.50 408.93M317.90 391.98L326.50 400.58M317.90 383.63L326.50 392.23M317.90 375.28L326.50 383.88M317.90 366.93L326.50 375.53M317.90 358.58L326.50 367.18M317.90 350.23L326.50 358.83M317.90 341.88L326.50 350.48M317.90 333.53L326.50 342.13M317.90 325.18L326.50 333.78M317.90 316.83L326.50 325.43M317.90 308.48L326.50 317.08M317.90 300.13L326.50 308.73M317.90 291.78L326.50 300.38M317.90 283.43L326.50 292.03" stroke="#2a2a2a" stroke-width="1.00" fill="none"/><path d="M317.90 417.28V297.20" stroke="#222" stroke-width="0.90"/><path d="M317.45 297.20H326.95" stroke="#333" stroke-width="0.90"/>
<path d="M330.85 282.80V280.40M329.55 280.40H332.15" stroke="#7a7a7a" stroke-width="0.8" fill="none"/>
<path clip-path="url(#c26)" d="M326.50 433.94L335.20 425.67M326.50 425.59L335.20 417.32M326.50 417.24L335.20 408.97M326.50 408.89L335.20 400.62M326.50 400.54L335.20 392.27M326.50 392.19L335.20 383.92M326.50 383.84L335.20 375.57M326.50 375.49L335.20 367.22M326.50 367.14L335.20 358.87M326.50 358.79L335.20 350.52M326.50 350.44L335.20 342.17M326.50 342.09L335.20 333.82M326.50 333.74L335.20 325.47M326.50 325.39L335.20 317.12M326.50 317.04L335.20 308.77M326.50 308.69L335.20 300.42M326.50 300.34L335.20 292.07M326.50 291.99L335.20 283.72M326.50 283.64L335.20 275.37M326.50 275.29L335.20 267.02" stroke="#333" stroke-width="0.95" fill="none"/><path d="M335.20 417.24V282.80" stroke="#444" stroke-width="0.90"/><path d="M326.05 282.80H335.65" stroke="#444" stroke-width="0.90"/>
<path d="M326.50 282.80V297.20" stroke="#444" stroke-width="0.9"/>
<path d="M339.40 296.20V291.00M338.10 291.00H340.70" stroke="#7a7a7a" stroke-width="0.8" fill="none"/>
<path clip-path="url(#c27)" d="M335.20 429.28L343.60 421.30M335.20 425.18L343.60 417.20M335.20 421.08L343.60 413.10M335.20 416.98L343.60 409.00M335.20 412.88L343.60 404.90M335.20 408.78L343.60 400.80M335.20 404.68L343.60 396.70M335.20 400.58L343.60 392.60M335.20 396.48L343.60 388.50M335.20 392.38L343.60 384.40M335.20 388.28L343.60 380.30M335.20 384.18L343.60 376.20M335.20 380.08L343.60 372.10M335.20 375.98L343.60 368.00M335.20 371.88L343.60 363.90M335.20 367.78L343.60 359.80M335.20 363.68L343.60 355.70M335.20 359.58L343.60 351.60M335.20 355.48L343.60 347.50M335.20 351.38L343.60 343.40M335.20 347.28L343.60 339.30M335.20 343.18L343.60 335.20M335.20 339.08L343.60 331.10M335.20 334.98L343.60 327.00M335.20 330.88L343.60 322.90M335.20 326.78L343.60 318.80M335.20 322.68L343.60 314.70M335.20 318.58L343.60 310.60M335.20 314.48L343.60 306.50M335.20 310.38L343.60 302.40M335.20 306.28L343.60 298.30M335.20 302.18L343.60 294.20M335.20 298.08L343.60 290.10M335.20 293.98L343.60 286.00" stroke="#606060" stroke-width="0.75" fill="none"/><path d="M335.20 417.20V296.20" stroke="#666" stroke-width="0.80"/><path d="M334.75 296.20H344.05" stroke="#777" stroke-width="0.80"/>
<path d="M347.80 282.20V279.80M346.50 279.80H349.10" stroke="#7a7a7a" stroke-width="0.8" fill="none"/>
<path clip-path="url(#c28)" d="M343.60 421.26L352.00 429.24M343.60 417.16L352.00 425.14M343.60 413.06L352.00 421.04M343.60 408.96L352.00 416.94M343.60 404.86L352.00 412.84M343.60 400.76L352.00 408.74M343.60 396.66L352.00 404.64M343.60 392.56L352.00 400.54M343.60 388.46L352.00 396.44M343.60 384.36L352.00 392.34M343.60 380.26L352.00 388.24M343.60 376.16L352.00 384.14M343.60 372.06L352.00 380.04M343.60 367.96L352.00 375.94M343.60 363.86L352.00 371.84M343.60 359.76L352.00 367.74M343.60 355.66L352.00 363.64M343.60 351.56L352.00 359.54M343.60 347.46L352.00 355.44M343.60 343.36L352.00 351.34M343.60 339.26L352.00 347.24M343.60 335.16L352.00 343.14M343.60 331.06L352.00 339.04M343.60 326.96L352.00 334.94M343.60 322.86L352.00 330.84M343.60 318.76L352.00 326.74M343.60 314.66L352.00 322.64M343.60 310.56L352.00 318.54M343.60 306.46L352.00 314.44M343.60 302.36L352.00 310.34M343.60 298.26L352.00 306.24M343.60 294.16L352.00 302.14M343.60 290.06L352.00 298.04M343.60 285.96L352.00 293.94M343.60 281.86L352.00 289.84M343.60 277.76L352.00 285.74M343.60 273.66L352.00 281.64" stroke="#8a8a8a" stroke-width="0.75" fill="none"/><path d="M343.60 417.16V282.20" stroke="#555" stroke-width="0.85"/><path d="M352.00 417.16V282.20" stroke="#555" stroke-width="0.85"/><path d="M343.15 282.20H352.45" stroke="#555" stroke-width="0.85"/>
<path d="M72.7 14.3L357.5 12.3L358.2 170.8L73.6 172.4Z" fill="none" stroke="#777" stroke-width="1"/>
<path d="M142.5 260.5L359.7 259.0L360.2 417.2L143.6 418.2Z" fill="none" stroke="#777" stroke-width="1"/>
<path d="M73.30 145.90H78.00" stroke="#888" stroke-width="0.9"/>
<path d="M73.30 119.60H78.00" stroke="#888" stroke-width="0.9"/>
<path d="M73.30 93.30H78.00" stroke="#888" stroke-width="0.9"/>
<path d="M73.30 67.00H78.00" stroke="#888" stroke-width="0.9"/>
<path d="M73.30 40.70H78.00" stroke="#888" stroke-width="0.9"/>
<path d="M144.40 172V168" stroke="#555" stroke-width="0.9"/>
<path d="M215.00 172V168" stroke="#555" stroke-width="0.9"/>
<path d="M286.60 172V168" stroke="#555" stroke-width="0.9"/>
<path d="M215.40 418V413.6" stroke="#333" stroke-width="0.9"/>
<path d="M287.50 418V413.6" stroke="#888" stroke-width="0.9"/>
<path d="M143.00 386.60H147.00" stroke="#888" stroke-width="0.9"/>
<path d="M143.00 355.20H147.00" stroke="#888" stroke-width="0.9"/>
<path d="M143.00 323.80H147.00" stroke="#888" stroke-width="0.9"/>
<path d="M143.00 292.40H147.00" stroke="#888" stroke-width="0.9"/>
<text x="64.00" y="174.80" font-size="8.40" font-weight="bold" text-anchor="middle" letter-spacing="0.00" fill="#111" >0</text>
<text x="55.40" y="148.70" font-size="8.40" font-weight="bold" text-anchor="middle" letter-spacing="0.00" fill="#111" >1</text>
<text x="64.10" y="148.70" font-size="8.40" font-weight="bold" text-anchor="middle" letter-spacing="0.00" fill="#111" >0</text>
<text x="55.40" y="122.60" font-size="8.40" font-weight="bold" text-anchor="middle" letter-spacing="0.00" fill="#111" >2</text>
<text x="64.10" y="122.60" font-size="8.40" font-weight="bold" text-anchor="middle" letter-spacing="0.00" fill="#111" >0</text>
<text x="55.40" y="96.50" font-size="8.40" font-weight="bold" text-anchor="middle" letter-spacing="0.00" fill="#111" >3</text>
<text x="64.10" y="96.50" font-size="8.40" font-weight="bold" text-anchor="middle" letter-spacing="0.00" fill="#111" >0</text>
<text x="55.40" y="70.40" font-size="8.40" font-weight="bold" text-anchor="middle" letter-spacing="0.00" fill="#111" >4</text>
<text x="64.10" y="70.40" font-size="8.40" font-weight="bold" text-anchor="middle" letter-spacing="0.00" fill="#111" >0</text>
<text x="55.40" y="44.30" font-size="8.40" font-weight="bold" text-anchor="middle" letter-spacing="0.00" fill="#111" >5</text>
<text x="64.10" y="44.30" font-size="8.40" font-weight="bold" text-anchor="middle" letter-spacing="0.00" fill="#111" >0</text>
<text x="55.40" y="18.20" font-size="8.40" font-weight="bold" text-anchor="middle" letter-spacing="0.00" fill="#111" >6</text>
<text x="64.10" y="18.20" font-size="8.40" font-weight="bold" text-anchor="middle" letter-spacing="0.00" fill="#111" >0</text>
<text x="135.20" y="420.80" font-size="7.60" font-weight="normal" text-anchor="middle" letter-spacing="0.00" fill="#111" stroke="#111" stroke-width="0.3">0</text>
<text x="129.30" y="389.25" font-size="7.60" font-weight="normal" text-anchor="middle" letter-spacing="0.00" fill="#111" stroke="#111" stroke-width="0.3">2</text>
<text x="137.00" y="389.25" font-size="7.60" font-weight="normal" text-anchor="middle" letter-spacing="0.00" fill="#111" stroke="#111" stroke-width="0.3">0</text>
<text x="129.30" y="357.70" font-size="7.60" font-weight="normal" text-anchor="middle" letter-spacing="0.00" fill="#111" stroke="#111" stroke-width="0.3">4</text>
<text x="137.00" y="357.70" font-size="7.60" font-weight="normal" text-anchor="middle" letter-spacing="0.00" fill="#111" stroke="#111" stroke-width="0.3">0</text>
<text x="129.30" y="326.15" font-size="7.60" font-weight="normal" text-anchor="middle" letter-spacing="0.00" fill="#111" stroke="#111" stroke-width="0.3">6</text>
<text x="137.00" y="326.15" font-size="7.60" font-weight="normal" text-anchor="middle" letter-spacing="0.00" fill="#111" stroke="#111" stroke-width="0.3">0</text>
<text x="129.30" y="294.60" font-size="7.60" font-weight="normal" text-anchor="middle" letter-spacing="0.00" fill="#111" stroke="#111" stroke-width="0.3">8</text>
<text x="137.00" y="294.60" font-size="7.60" font-weight="normal" text-anchor="middle" letter-spacing="0.00" fill="#111" stroke="#111" stroke-width="0.3">0</text>
<text x="123.10" y="263.05" font-size="7.60" font-weight="normal" text-anchor="middle" letter-spacing="0.00" fill="#111" stroke="#111" stroke-width="0.3">1</text>
<text x="130.10" y="263.05" font-size="7.60" font-weight="normal" text-anchor="middle" letter-spacing="0.00" fill="#111" stroke="#111" stroke-width="0.3">0</text>
<text x="136.60" y="263.05" font-size="7.60" font-weight="normal" text-anchor="middle" letter-spacing="0.00" fill="#111" stroke="#111" stroke-width="0.3">0</text>
<text x="86.80" y="25.40" font-size="8.20" font-weight="bold" text-anchor="start" letter-spacing="0.00" fill="#111" >A</text>
<text x="156.40" y="272.60" font-size="8.00" font-weight="bold" text-anchor="start" letter-spacing="0.00" fill="#111" >B</text>
<text x="96.80" y="185.50" font-size="8.80" letter-spacing="1.25" fill="#111" stroke="#111" stroke-width="0.35">none</text>
<text x="160.20" y="185.00" font-size="8.80" letter-spacing="1.10" fill="#111" stroke="#111" stroke-width="0.35">16,16,16</text>
<text x="242.90" y="184.20" font-size="8.80" letter-spacing="1.60" fill="#111" stroke="#111" stroke-width="0.35">2,2</text>
<text x="305.90" y="184.00" font-size="8.80" letter-spacing="1.25" fill="#111" stroke="#111" stroke-width="0.35">7,7,8,8</text>
<text x="158.40" y="430.70" font-size="8.80" letter-spacing="1.05" fill="#111" stroke="#111" stroke-width="0.35">16,16,16</text>
<text x="243.40" y="430.80" font-size="8.80" letter-spacing="1.60" fill="#111" stroke="#111" stroke-width="0.35">2,2</text>
<text x="306.10" y="429.20" font-size="8.80" letter-spacing="1.25" fill="#111" stroke="#111" stroke-width="0.35">7,7,8,8</text>
<text x="183.60" y="196.90" font-size="8.40" font-weight="bold" text-anchor="start" letter-spacing="0.70" fill="#111" >label</text>
<text x="211.70" y="196.90" font-size="8.40" font-weight="bold" text-anchor="start" letter-spacing="0.60" fill="#111" >position</text>
<text x="220.10" y="443.40" font-size="8.40" font-weight="bold" text-anchor="start" letter-spacing="0.70" fill="#111" >label</text>
<text x="246.90" y="443.40" font-size="8.40" font-weight="bold" text-anchor="start" letter-spacing="0.60" fill="#111" >position</text>
<text x="304.00" y="62.80" font-size="6.80" font-weight="bold" text-anchor="middle" letter-spacing="0.00" fill="#111" stroke="#111" stroke-width="0.2">a</text>
<text x="331.50" y="62.80" font-size="6.80" font-weight="bold" text-anchor="middle" letter-spacing="0.00" fill="#111" stroke="#111" stroke-width="0.2">a</text>
<text x="339.50" y="62.80" font-size="6.80" font-weight="bold" text-anchor="middle" letter-spacing="0.00" fill="#111" stroke="#111" stroke-width="0.2">a</text>
<text x="345.60" y="62.80" font-size="6.80" font-weight="bold" text-anchor="middle" letter-spacing="0.00" fill="#111" stroke="#111" stroke-width="0.2">a</text>
<text x="305.60" y="267.20" font-size="6.20" font-weight="bold" text-anchor="middle" letter-spacing="0.00" fill="#111" >a</text>
<text x="337.40" y="267.20" font-size="6.80" font-weight="bold" text-anchor="middle" letter-spacing="0.00" fill="#111" >b</text>
<text x="346.20" y="267.20" font-size="6.80" font-weight="bold" text-anchor="middle" letter-spacing="0.00" fill="#111" >b</text>
<text transform="translate(15.0 93.2) rotate(-90)" font-size="9" font-weight="bold" text-anchor="middle" letter-spacing="0.47" fill="#111">Relative % total fatty acid</text>
<text transform="translate(103.0 340.2) rotate(-90)" font-size="9" font-weight="bold" text-anchor="middle" letter-spacing="0.22" fill="#111">% fatty acid deuterated</text>
</svg>
</body></html>
